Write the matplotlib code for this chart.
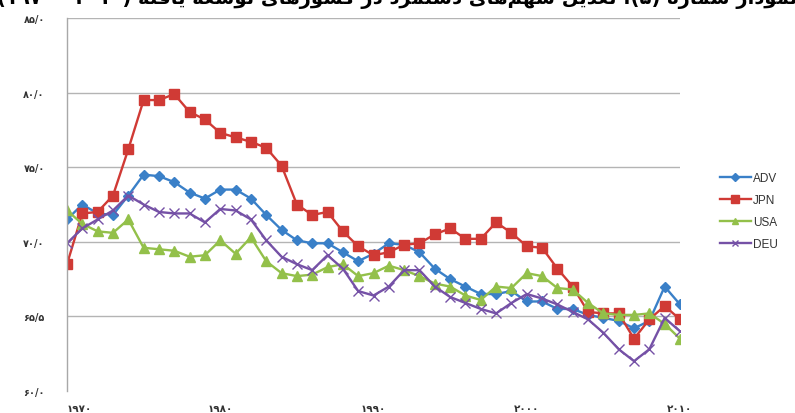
import matplotlib
matplotlib.use("Agg")
import matplotlib.pyplot as plt

# ---------------- data ----------------
years = list(range(1970, 2011))
ADV = [71.5, 72.5, 71.9, 71.8, 73.1, 74.5, 74.4, 74.0, 73.3, 72.9,
       73.5, 73.5, 72.9, 71.8, 70.8, 70.1, 69.9, 69.9, 69.3, 68.7,
       69.2, 69.9, 69.8, 69.3, 68.2, 67.5, 67.0, 66.5, 66.5, 66.7,
       66.0, 66.0, 65.5, 65.5, 65.1, 64.9, 64.7, 64.2, 64.7, 67.0, 65.8]
JPN = [68.5, 71.9, 72.0, 73.1, 76.2, 79.5, 79.5, 79.9, 78.7, 78.2,
       77.3, 77.0, 76.7, 76.3, 75.1, 72.5, 71.8, 72.0, 70.7, 69.7,
       69.1, 69.3, 69.8, 69.9, 70.5, 70.9, 70.2, 70.2, 71.3, 70.6,
       69.7, 69.6, 68.2, 67.0, 65.3, 65.2, 65.2, 63.5, 64.8, 65.7, 64.8]
USA = [72.1, 71.2, 70.7, 70.6, 71.5, 69.6, 69.5, 69.4, 69.0, 69.1,
       70.1, 69.2, 70.3, 68.7, 67.9, 67.7, 67.8, 68.3, 68.5, 67.7,
       67.9, 68.4, 68.1, 67.7, 67.2, 67.0, 66.4, 66.1, 67.0, 66.9,
       67.9, 67.7, 66.9, 66.8, 65.9, 65.2, 65.1, 65.1, 65.2, 64.5, 63.5]
DEU = [69.9, 70.9, 71.5, 72.1, 73.1, 72.5, 72.0, 71.9, 71.9, 71.3,
       72.2, 72.1, 71.5, 70.1, 69.0, 68.5, 68.1, 69.1, 68.2, 66.7,
       66.4, 67.0, 68.1, 68.1, 67.0, 66.3, 65.9, 65.5, 65.2, 65.9,
       66.5, 66.2, 65.8, 65.3, 64.8, 63.9, 62.8, 62.0, 62.8, 64.9, 64.0]
series_names = ["ADV", "JPN", "USA", "DEU"]
y_ticks = [60, 65, 70, 75, 80, 85]
y_tick_labels = ["۶۰/۰", "۶۵/۵", "۷۰/۰", "۷۵/۰", "۸۰/۰", "۸۵/۰"]
x_ticks = [1970, 1980, 1990, 2000, 2010]
x_tick_labels = ["۱۹۷۰", "۱۹۸۰", "۱۹۹۰", "۲۰۰۰", "۲۰۱۰"]
title_words = ["نمودار", "شماره", "(۵).", "تعدیل", "سهم‌های", "دستمزد", "در",
               "کشورهای", "توسعه", "یافته", "(۱۹۷۰ - ۲۰۱۰)"]

# ---------------- simple Persian shaping ----------------
FORMS = {
    "ا": ("\uFE8D", "\uFE8E"), "د": ("\uFEA9", "\uFEAA"), "ر": ("\uFEAD", "\uFEAE"),
    "ز": ("\uFEAF", "\uFEB0"), "و": ("\uFEED", "\uFEEE"),
    "ت": ("\uFE95", "\uFE96", "\uFE97", "\uFE98"),
    "س": ("\uFEB1", "\uFEB2", "\uFEB3", "\uFEB4"),
    "ش": ("\uFEB5", "\uFEB6", "\uFEB7", "\uFEB8"),
    "ع": ("\uFEC9", "\uFECA", "\uFECB", "\uFECC"),
    "ف": ("\uFED1", "\uFED2", "\uFED3", "\uFED4"),
    "ل": ("\uFEDD", "\uFEDE", "\uFEDF", "\uFEE0"),
    "م": ("\uFEE1", "\uFEE2", "\uFEE3", "\uFEE4"),
    "ن": ("\uFEE5", "\uFEE6", "\uFEE7", "\uFEE8"),
    "ه": ("\uFEE9", "\uFEEA", "\uFEEB", "\uFEEC"),
    "ی": ("\uFBFC", "\uFBFD", "\uFBFE", "\uFBFF"),
    "ک": ("\uFB8E", "\uFB8F", "\uFB90", "\uFB91"),
}


def shape_word(w):
    if not any(c in FORMS for c in w):
        return w
    out = []
    for i, c in enumerate(w):
        if c not in FORMS:
            if c != "\u200c":
                out.append(c)
            continue
        prev = w[i - 1] if i > 0 else None
        nxt = w[i + 1] if i + 1 < len(w) else None
        pj = prev in FORMS and len(FORMS[prev]) == 4
        dual = len(FORMS[c]) == 4
        nj = dual and nxt in FORMS
        f = FORMS[c]
        if dual:
            form = f[3] if (pj and nj) else f[1] if pj else f[2] if nj else f[0]
        else:
            form = f[1] if pj else f[0]
        out.append(form)
    return "".join(reversed(out))


def visual(tok):
    if tok.startswith("(") and tok.endswith(")."):
        return "." + tok[:-1]
    return shape_word(tok)


title_visual = " ".join(visual(t) for t in reversed(title_words))

# ---------------- figure ----------------
W, H = 795, 414
fig = plt.figure(figsize=(W / 100, H / 100), dpi=100)
fig.patch.set_facecolor("white")
ax = fig.add_axes([67 / W, 1 - 392 / H, (680 - 67) / W, (392 - 19) / H])

colors = {"ADV": "#3a80c8", "JPN": "#d03a35", "USA": "#93c04a", "DEU": "#7551a6"}
markers = {"ADV": "D", "JPN": "s", "USA": "^", "DEU": "x"}
msizes = {"ADV": 5.5, "JPN": 7.5, "USA": 7, "DEU": 7}
data = {"ADV": ADV, "JPN": JPN, "USA": USA, "DEU": DEU}

for name in series_names:
    c = colors[name]
    ax.plot(years, data[name], color=c, lw=1.7, marker=markers[name],
            ms=msizes[name], mfc=c, mec=c, mew=1.0,
            label=name, solid_joinstyle="round")

ax.set_xlim(1970, 2010)
ax.set_ylim(60, 85)
ax.set_yticks(y_ticks)
ax.set_yticklabels(y_tick_labels, fontsize=7, fontweight="bold",
                   color="#333333", family="DejaVu Sans")
ax.set_xticks(x_ticks)
ax.set_xticklabels(x_tick_labels, fontsize=7.5, fontweight="bold",
                   color="#333333", family="DejaVu Sans")
ax.get_xticklabels()[0].set_horizontalalignment("left")
ax.tick_params(axis="y", length=0, pad=16)
ax.tick_params(axis="x", length=0, pad=9)
for y in y_ticks[1:]:
    ax.axhline(y, color="#b4b4b4", lw=1.0, zorder=0)
for s in ["top", "right", "bottom"]:
    ax.spines[s].set_visible(False)
ax.spines["left"].set_color("#a8a8a8")
ax.spines["left"].set_linewidth(1.0)

leg = fig.legend(loc="upper left", bbox_to_anchor=(720 / W, 1 - 173 / H),
                 frameon=False, handlelength=2.6,
                 handletextpad=0.2, labelspacing=0.85, borderpad=0,
                 borderaxespad=0, markerscale=0.7,
                 prop={"family": "Liberation Sans", "size": 8.5})
for t in leg.get_texts():
    t.set_color("#333333")

fig.text(0.5, 1 + 1 / H, title_visual, ha="center", va="center",
         fontsize=14, fontweight="bold", family="DejaVu Sans", color="black")

fig.savefig("out.png", dpi=100, facecolor="white")
